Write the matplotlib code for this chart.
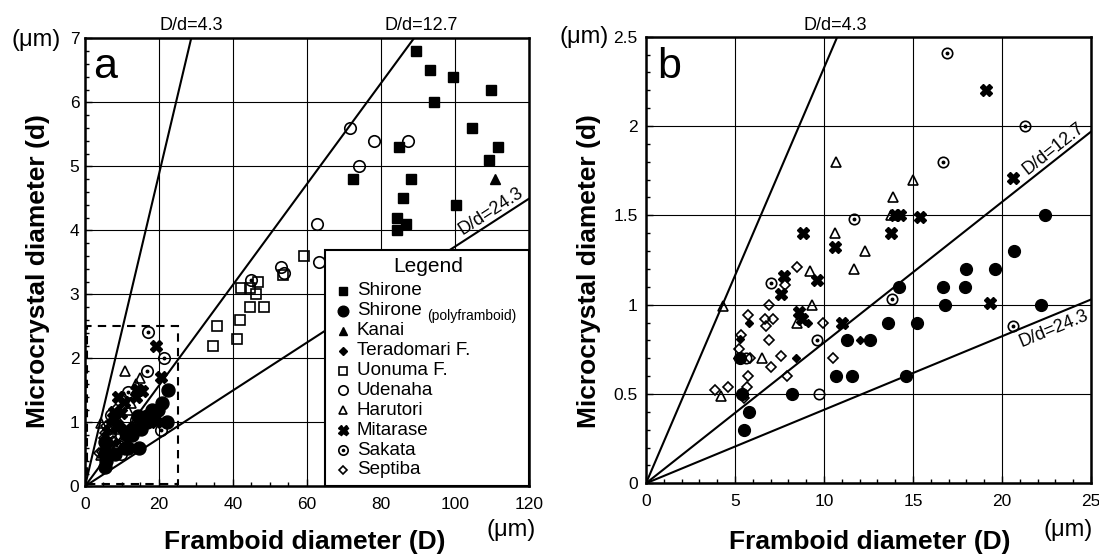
import numpy as np
import matplotlib.pyplot as plt
from matplotlib.patches import Rectangle
from matplotlib.ticker import MultipleLocator, FuncFormatter

plt.rcParams['font.family'] = ['Liberation Sans', 'DejaVu Sans']

#______data (D = framboid diameter, d = microcrystal diameter, um)______________________________
shirone_D = [89.4, 93.2, 99.5, 109.6, 94.3, 104.6, 111.6, 109.1, 84.9, 72.3, 88.1, 86.0, 100.3, 84.3, 86.8, 84.2]
shirone_d = [6.8, 6.5, 6.4, 6.2, 6.0, 5.6, 5.3, 5.1, 5.3, 4.8, 4.8, 4.5, 4.4, 4.2, 4.1, 4.0]

poly_D = [5.5, 5.8, 5.4, 5.3, 8.2, 10.7, 11.6, 14.6, 11.3, 12.6, 13.6, 15.2, 14.2, 16.8, 22.2,
          16.7, 17.9, 18.0, 19.6, 20.7, 22.4]
poly_d = [0.30, 0.40, 0.50, 0.70, 0.50, 0.60, 0.60, 0.60, 0.80, 0.80, 0.90, 0.90, 1.10, 1.00, 1.00,
          1.10, 1.10, 1.20, 1.20, 1.30, 1.50]

kanai_D = [110.9]
kanai_d = [4.8]

tera_D = [5.1, 5.4, 5.8, 5.3, 8.4, 9.1, 12.0]
tera_d = [0.70, 0.51, 0.90, 0.81, 0.70, 0.90, 0.80]

uonuma_D = [34.7, 35.6, 41.0, 41.9, 44.6, 48.4, 46.2, 42.2, 44.6, 46.8, 53.6, 59.3]
uonuma_d = [2.2, 2.5, 2.3, 2.6, 2.8, 2.8, 3.0, 3.1, 3.1, 3.2, 3.3, 3.6]

udenaha_D = [71.6, 78.1, 87.4, 74.1, 62.7, 63.3, 52.9, 53.9, 9.7, 5.6]
udenaha_d = [5.6, 5.4, 5.4, 5.0, 4.1, 3.5, 3.42, 3.34, 0.50, 0.70]

harutori_D = [4.3, 4.2, 6.5, 8.5, 9.2, 9.3, 10.6, 10.7, 11.7, 12.3, 13.75, 13.9, 15.0]
harutori_d = [0.99, 0.49, 0.70, 0.90, 1.19, 1.00, 1.40, 1.80, 1.20, 1.30, 1.50, 1.60, 1.70]

mitarase_D = [8.8, 10.6, 7.75, 9.6, 7.6, 8.6, 8.75, 13.75, 14.0, 14.25, 15.4, 11.0, 19.3, 20.6, 19.1]
mitarase_d = [1.40, 1.32, 1.16, 1.14, 1.06, 0.96, 0.92, 1.40, 1.50, 1.50, 1.49, 0.90, 1.01, 1.71, 2.20]

sakata_D = [44.9, 7.0, 9.6, 11.7, 13.8, 16.7, 16.9, 21.3, 20.6]
sakata_d = [3.23, 1.12, 0.80, 1.48, 1.03, 1.80, 2.41, 2.00, 0.88]

septiba_D = [3.9, 4.6, 5.7, 5.5, 5.75, 7.9, 5.2, 5.35, 5.85, 7.0, 7.6, 10.5, 6.9, 6.75, 6.7, 7.15,
             5.75, 6.9, 9.95, 7.8, 8.5]
septiba_d = [0.52, 0.54, 0.54, 0.48, 0.60, 0.60, 0.75, 0.83, 0.70, 0.65, 0.71, 0.70, 0.80, 0.88, 0.92,
             0.92, 0.94, 1.00, 0.90, 1.11, 1.21]

# D/d reference lines (labels), and the slopes as they are actually drawn in panel a
ratio_labels = ["4.3", "12.7", "24.3"]
ratios_b = [4.3, 12.7, 24.3]
ratios_a = [4.1, 12.7, 26.7]

legend_names = ["Shirone", "Shirone", "Kanai", "Teradomari F.", "Uonuma F.", "Udenaha",
                "Harutori", "Mitarase", "Sakata", "Septiba"]

#______marker styles__________
series = [
    (shirone_D, shirone_d, dict(marker='s', ms=7, mfc='k', mec='k')),
    (poly_D, poly_d, dict(marker='o', ms=8.5, mfc='k', mec='k')),
    (kanai_D, kanai_d, dict(marker='^', ms=6.5, mfc='k', mec='k')),
    (tera_D, tera_d, dict(marker='D', ms=4, mfc='k', mec='k')),
    (uonuma_D, uonuma_d, dict(marker='s', ms=7, mfc='none', mec='k', mew=1.2)),
    (udenaha_D, udenaha_d, dict(marker='o', ms=7.5, mfc='none', mec='k', mew=1.2)),
    (harutori_D, harutori_d, dict(marker='^', ms=7, mfc='none', mec='k', mew=1.2)),
    (mitarase_D, mitarase_d, dict(marker='X', ms=8, mfc='k', mec='k')),
    (sakata_D, sakata_d, dict(marker='o', ms=7.5, mfc='none', mec='k', mew=1.2)),
    (septiba_D, septiba_d, dict(marker='D', ms=5, mfc='none', mec='k', mew=1.2)),
]
SAKATA = 8

fig = plt.figure(figsize=(10.99, 5.55), dpi=100)
ax_a = fig.add_axes([0.07734, 0.12378, 0.4040, 0.80721])
ax_b = fig.add_axes([0.58781, 0.12919, 0.40491, 0.80468])


def draw_points(ax, xmax, ymax, scale=1.0):
    for i, (D, d, st) in enumerate(series):
        D = np.array(D)
        d = np.array(d)
        keep = (D <= xmax) & (d <= ymax)
        s = dict(st)
        s['ms'] = st['ms'] * scale
        ax.plot(D[keep], d[keep], ls='none', zorder=4, **s)
        if i == SAKATA:
            ax.plot(D[keep], d[keep], ls='none', marker='o', ms=1.8, mfc='k', mec='k', zorder=5)


def style_axes(ax, xmax, ymax, xmaj, xmin, ymaj, ymin, ypad):
    ax.set_xlim(0, xmax)
    ax.set_ylim(0, ymax)
    ax.xaxis.set_major_locator(MultipleLocator(xmaj))
    ax.xaxis.set_minor_locator(MultipleLocator(xmin))
    ax.yaxis.set_major_locator(MultipleLocator(ymaj))
    ax.yaxis.set_minor_locator(MultipleLocator(ymin))
    ax.xaxis.set_major_formatter(FuncFormatter(lambda v, _: f"{v:g}"))
    ax.yaxis.set_major_formatter(FuncFormatter(lambda v, _: f"{v:g}"))
    ax.grid(True, which='major', color='k', lw=0.8, zorder=1)
    ax.tick_params(which='both', direction='in', width=1.0, labelsize=12.5)
    ax.tick_params(which='major', length=5)
    ax.tick_params(which='minor', length=3)
    ax.tick_params(axis='x', pad=8)
    ax.tick_params(axis='y', pad=ypad)
    for s in ax.spines.values():
        s.set_linewidth(1.8)


def line_label(ax, x, r, text, dy, va):
    # screen angle of the line d = D/r at D = x
    ang = ax.transData.transform_angles(np.array([np.degrees(np.arctan(1 / r))]),
                                        np.array([[x, x / r]]))[0]
    ax.annotate(text, xy=(x, x / r), xytext=(0, dy), textcoords='offset points',
                rotation=ang, rotation_mode='anchor', ha='center', va=va,
                fontsize=13, zorder=6)


#______panel a__________
style_axes(ax_a, 120, 7, 20, 5, 1, 0.2, 4)
for r in ratios_a:
    xs = np.array([0, 130])
    ax_a.plot(xs, xs / r, 'k-', lw=1.5, zorder=3)
draw_points(ax_a, 200, 10, scale=1.1)
ax_a.add_patch(Rectangle((0.5, 0.03), 24.7, 2.47, fill=False, ls=(0, (4, 3)), lw=1.5, ec='k', zorder=5))
ax_a.text(0.018, 0.911, "a", transform=ax_a.transAxes, fontsize=31, va='baseline', ha='left')
line_label(ax_a, 111, ratios_a[2], "D/d=" + ratio_labels[2], 1, 'bottom')

# legend box drawn by hand
ax_a.add_patch(Rectangle((0.541, 0.0), 0.459, 0.527, transform=ax_a.transAxes, fc='white',
                         ec='k', lw=1.5, zorder=8, clip_on=False))
ax_a.text(0.7725, 0.490, "Legend", transform=ax_a.transAxes, fontsize=15, ha='center',
          va='center', zorder=9)
for k, (D, d, st) in enumerate(series):
    yy = 0.436 - k * 0.0444
    lst = dict(st)
    lst['ms'] = st['ms'] * 0.9
    ax_a.plot([0.582], [yy], transform=ax_a.transAxes, ls='none', zorder=9, clip_on=False, **lst)
    if k == SAKATA:
        ax_a.plot([0.582], [yy], transform=ax_a.transAxes, ls='none', marker='o', ms=1.6,
                  mfc='k', mec='k', zorder=10, clip_on=False)
    ax_a.text(0.6126, yy, legend_names[k], transform=ax_a.transAxes, fontsize=13.5,
              va='center', ha='left', zorder=9)
ax_a.text(0.770, 0.436 - 0.0444 - 0.012, "(polyframboid)", transform=ax_a.transAxes,
          fontsize=10, va='center', ha='left', zorder=9)

#______panel b__________
style_axes(ax_b, 25, 2.5, 5, 1, 0.5, 0.1, 6)
for r in ratios_b:
    xs = np.array([0, 30])
    ax_b.plot(xs, xs / r, 'k-', lw=1.5, zorder=3)
draw_points(ax_b, 25, 2.5)
ax_b.text(0.025, 0.9075, "b", transform=ax_b.transAxes, fontsize=31, va='baseline', ha='left')
line_label(ax_b, 23.2, ratios_b[1], "D/d=" + ratio_labels[1], 1, 'bottom')
line_label(ax_b, 22.7, ratios_b[2], "D/d=" + ratio_labels[2], -3, 'top')

#______labels outside the axes__________
W, H = 1099, 555
def ftext(px, py, s, **kw):
    fig.text(px / W, 1 - py / H, s, ha='center', va='center', **kw)

ftext(191, 25, "D/d=" + ratio_labels[0], fontsize=13)
ftext(421, 25, "D/d=" + ratio_labels[1], fontsize=13)
ftext(835, 25, "D/d=" + ratio_labels[0], fontsize=13)
ftext(36, 40, "(\u03bcm)", fontsize=17)
ftext(584, 37, "(\u03bcm)", fontsize=17)
ftext(511, 530, "(\u03bcm)", fontsize=17)
ftext(1068, 530, "(\u03bcm)", fontsize=17)
ftext(38, 271, "Microcrystal diameter (d)", fontsize=19, fontweight='bold', rotation=90)
ftext(589, 271, "Microcrystal diameter (d)", fontsize=19, fontweight='bold', rotation=90)
ftext(305, 542, "Framboid diameter (D)", fontsize=19, fontweight='bold')
ftext(870, 542, "Framboid diameter (D)", fontsize=19, fontweight='bold')

fig.savefig("out.png", dpi=100)
